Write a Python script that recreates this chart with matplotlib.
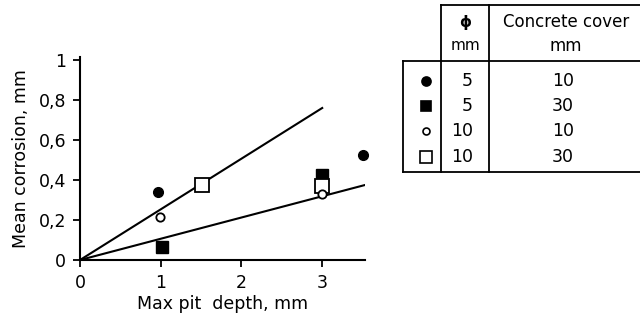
import matplotlib.pyplot as plt
from matplotlib.lines import Line2D

# data
fc_x = [0.97, 3.5]     # filled circle: phi 5, cover 10
fc_y = [0.34, 0.525]
fs_x = [1.02, 3.0]     # filled square: phi 5, cover 30
fs_y = [0.065, 0.425]
oc_x = [0.99, 3.0]     # open circle: phi 10, cover 10
oc_y = [0.215, 0.33]
os_x = [1.51, 3.0]     # open square: phi 10, cover 30
os_y = [0.375, 0.37]

steep_x = [0.0, 3.0]
steep_y = [0.0, 0.76]
flat_x = [0.0, 3.53]
flat_y = [0.0, 0.375]

xticks = [0, 1, 2, 3]
yticks = [0, 0.2, 0.4, 0.6, 0.8, 1]
ylabels = ['0', '0,2', '0,4', '0,6', '0,8', '1']

phi_col = ['5', '5', '10', '10']
cover_col = ['10', '30', '10', '30']

plt.rcParams['font.family'] = 'DejaVu Sans'
fig = plt.figure(figsize=(6.4, 3.27), dpi=100)
W, H = 640.0, 327.0
ax = fig.add_axes([80 / W, 1 - 260 / H, 285 / W, 203 / H])

ax.plot(steep_x, steep_y, color='black', lw=1.5)
ax.plot(flat_x, flat_y, color='black', lw=1.5)
ax.plot(fc_x, fc_y, 'o', color='black', ms=7, clip_on=False)
ax.plot(fs_x, fs_y, 's', color='black', ms=8.5, clip_on=False)
ax.plot(os_x, os_y, 's', mfc='white', mec='black', mew=1.3, ms=9.5, clip_on=False)
ax.plot(oc_x, oc_y, 'o', mfc='white', mec='black', mew=1.3, ms=6, clip_on=False)

ax.set_xlim(0, 3.53)
ax.set_ylim(0, 1.015)
ax.set_xticks(xticks)
ax.set_xticklabels([str(t) for t in xticks])
ax.set_yticks(yticks)
ax.set_yticklabels(ylabels)
ax.spines['top'].set_visible(False)
ax.spines['right'].set_visible(False)
for s in ['left', 'bottom']:
    ax.spines[s].set_linewidth(1.5)
ax.tick_params(direction='out', length=5, width=1.3, labelsize=12.5, pad=5)
ax.set_xlabel('Max pit  depth, mm', fontsize=12.5, labelpad=2)
ax.set_ylabel('Mean corrosion, mm', fontsize=12.5, labelpad=6)

# table drawn in pixel coordinates on the figure
def px(x, y):
    return x / W, 1 - y / H

def hline(y, x0, x1):
    a, b = px(x0, y), px(x1, y)
    fig.add_artist(Line2D([a[0], b[0]], [a[1], b[1]], color='black', lw=1.3))

def vline(x, y0, y1):
    a, b = px(x, y0), px(x, y1)
    fig.add_artist(Line2D([a[0], b[0]], [a[1], b[1]], color='black', lw=1.3))

hline(5, 441, 640)
hline(61, 403, 640)
hline(172, 403, 640)
vline(403, 61, 172)
vline(441, 5, 172)
vline(489, 5, 172)

fig.text(*px(465, 22), '\u03d5', ha='center', va='center', fontsize=11, fontweight='bold')
fig.text(*px(465, 46), 'mm', ha='center', va='center', fontsize=11)
fig.text(*px(566, 22), 'Concrete cover', ha='center', va='center', fontsize=12)
fig.text(*px(566, 46), 'mm', ha='center', va='center', fontsize=12)

row_y = [81, 106, 131, 157]
styles = [dict(marker='o', mfc='black', ms=6.5),
          dict(marker='s', mfc='black', ms=7.5),
          dict(marker='o', mfc='white', ms=5),
          dict(marker='s', mfc='white', ms=8)]
for y, st, p, c in zip(row_y, styles, phi_col, cover_col):
    x0, y0 = px(426, y)
    fig.add_artist(Line2D([x0], [y0], linestyle='none', mec='black', mew=1.2, **st))
    fig.text(*px(473, y), p, ha='right', va='center', fontsize=12.5)
    fig.text(*px(563, y), c, ha='center', va='center', fontsize=12.5)

fig.savefig('out.png', dpi=100)
